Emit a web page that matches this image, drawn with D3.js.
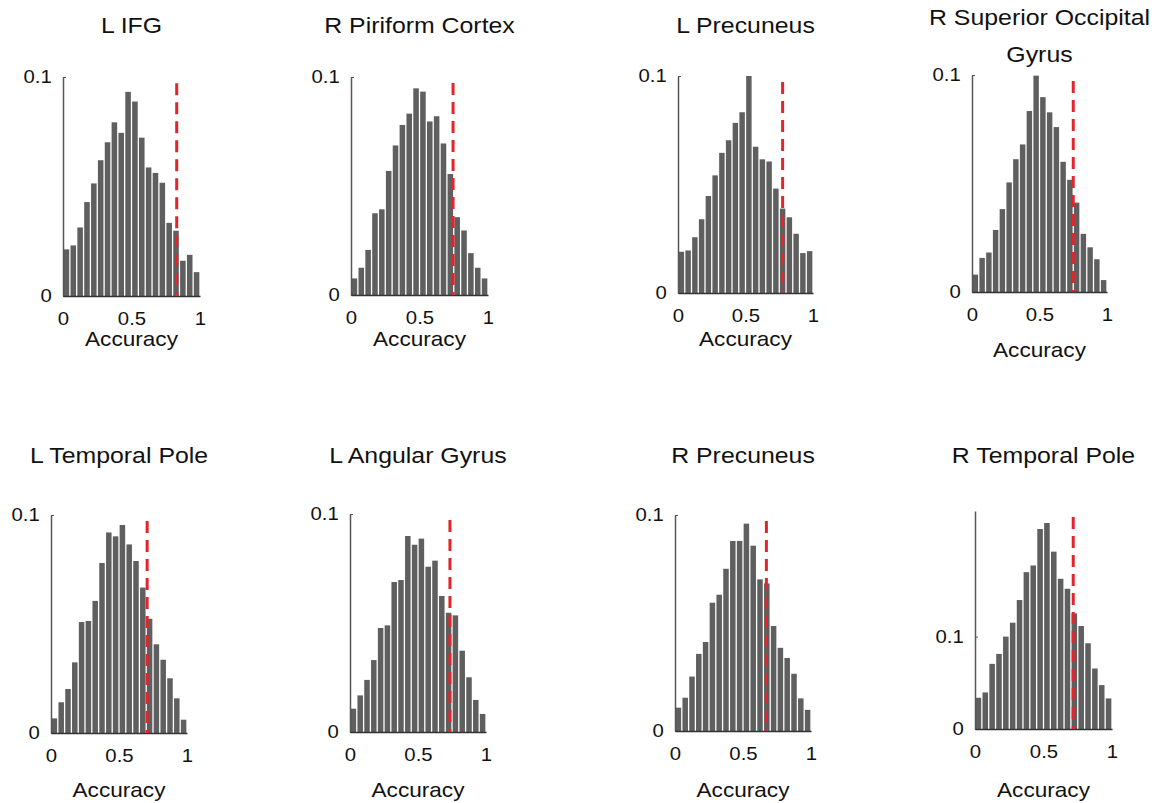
<!DOCTYPE html>
<html>
<head>
<meta charset="utf-8">
<script src="https://cdn.jsdelivr.net/npm/d3@7"></script>
<style>
  body { margin: 0; background: #fff; }
  svg { display: block; font-family: "Liberation Sans", Arial, sans-serif; }
</style>
</head>
<body>
<div id="chart"></div>
<script>
// bin left edges (bin width 0.05)
const binStarts = [0, 0.05, 0.1, 0.15, 0.2, 0.25, 0.3, 0.35, 0.4, 0.45,
                   0.5, 0.55, 0.6, 0.65, 0.7, 0.75, 0.8, 0.85, 0.9, 0.95];
const binWidth = 0.05;

const titles = [
  ["L IFG"], ["R Piriform Cortex"], ["L Precuneus"], ["R Superior Occipital", "Gyrus"],
  ["L Temporal Pole"], ["L Angular Gyrus"], ["R Precuneus"], ["R Temporal Pole"]
];

// null-distribution frequencies
const lIFG = [0.0213, 0.0231, 0.0313, 0.0429, 0.0514, 0.062, 0.0702, 0.0793, 0.0745, 0.0932,
              0.0888, 0.0723, 0.0587, 0.0562, 0.0517, 0.0334, 0.0298, 0.0161, 0.0188, 0.0109];
const rPiriform = [0.0076, 0.0125, 0.0207, 0.0375, 0.0393, 0.0569, 0.0686, 0.078, 0.0832, 0.0948,
                   0.0933, 0.0796, 0.082, 0.0695, 0.0555, 0.0357, 0.0296, 0.0192, 0.0125, 0.0076];
const lPrecuneus = [0.019, 0.0196, 0.0257, 0.034, 0.0447, 0.0542, 0.0646, 0.0704, 0.0784, 0.0833,
                    0.1, 0.0674, 0.0616, 0.0606, 0.0481, 0.0389, 0.0349, 0.0273, 0.0184, 0.0193];
const rSupOccipital = [0.008, 0.0157, 0.0182, 0.0286, 0.0382, 0.0505, 0.0612, 0.068, 0.0834, 0.0997,
                       0.0898, 0.0828, 0.076, 0.06, 0.0517, 0.0412, 0.0268, 0.0206, 0.0151, 0.0055];
const lTemporalPole = [0.0067, 0.0141, 0.0202, 0.0324, 0.0509, 0.0514, 0.0606, 0.078, 0.092, 0.0902,
                       0.0954, 0.0865, 0.0789, 0.0667, 0.0524, 0.0407, 0.0336, 0.0251, 0.0159, 0.0061];
const lAngular = [0.0107, 0.0168, 0.0239, 0.033, 0.0477, 0.0489, 0.0688, 0.0697, 0.0899, 0.0859,
                  0.0887, 0.0758, 0.0786, 0.0624, 0.0547, 0.0535, 0.0373, 0.0251, 0.0147, 0.0083];
const rPrecuneus = [0.0108, 0.0154, 0.0252, 0.0357, 0.0412, 0.0594, 0.0631, 0.0751, 0.088, 0.088,
                    0.096, 0.0858, 0.0702, 0.0683, 0.0486, 0.0385, 0.0338, 0.0265, 0.0151, 0.0098];
const rTemporalPole = [0.0338, 0.0396, 0.0705, 0.0813, 0.1, 0.1151, 0.1396, 0.1698, 0.177, 0.2165,
                       0.223, 0.192, 0.1626, 0.1518, 0.1252, 0.1115, 0.0928, 0.0655, 0.0475, 0.0331];

const series = [lIFG, rPiriform, lPrecuneus, rSupOccipital, lTemporalPole, lAngular, rPrecuneus, rTemporalPole];

// observed accuracy (red dashed line)
const observed = [0.83, 0.745, 0.775, 0.75, 0.707, 0.735, 0.672, 0.717];
const yMaxes = [0.1, 0.1, 0.1, 0.1, 0.1, 0.1, 0.1, 0.236];
const yTickVals = [0, 0.1];
const xTickVals = [0, 0.5, 1];

// panel placement in pixels
const layout = [
  {x0: 63,  x1: 200,  top: 77,  bottom: 296, titleY: 33,  labelY: 346},
  {x0: 351, x1: 488,  top: 77,  bottom: 295, titleY: 33,  labelY: 346},
  {x0: 678, x1: 813,  top: 76,  bottom: 293, titleY: 33,  labelY: 346},
  {x0: 972, x1: 1107, top: 75,  bottom: 292, titleY: 25,  labelY: 357},
  {x0: 51,  x1: 187,  top: 515, bottom: 733, titleY: 463, labelY: 797},
  {x0: 350, x1: 486,  top: 514, bottom: 732, titleY: 463, labelY: 797},
  {x0: 675, x1: 811,  top: 515, bottom: 731, titleY: 463, labelY: 797},
  {x0: 975, x1: 1112, top: 511, bottom: 729, titleY: 463, labelY: 797}
];

const stretch = "scale(1.13,1)"; // source glyphs are a bit wider than Arial

const W = 1156, H = 803;
const svg = d3.select("#chart").append("svg")
  .attr("width", W)
  .attr("height", H);

function label(x, y, txt, size) {
  svg.append("text")
    .attr("transform", `translate(${x},${y}) ${stretch}`)
    .attr("text-anchor", "middle")
    .style("font-size", size + "px")
    .attr("fill", "#111")
    .text(txt);
}

series.forEach((vals, i) => {
  const L = layout[i];
  const x = d3.scaleLinear().domain([0, 1]).range([L.x0, L.x1]);
  const y = d3.scaleLinear().domain([0, yMaxes[i]]).range([L.bottom, L.top]);
  const g = svg.append("g");

  // bars
  g.selectAll("rect")
    .data(vals.map((v, j) => ({start: binStarts[j], value: v})))
    .enter()
    .append("rect")
    .attr("x", d => x(d.start) + 0.65)
    .attr("width", d => x(d.start + binWidth) - x(d.start) - 1.3)
    .attr("y", d => y(d.value))
    .attr("height", d => y(0) - y(d.value))
    .attr("fill", "#5f5f5f");

  // y axis
  const ya = g.append("g")
    .attr("transform", `translate(${L.x0},0)`)
    .call(d3.axisLeft(y).tickValues(yTickVals).tickSizeInner(-3).tickSizeOuter(0)
      .tickPadding(10).tickFormat(d => d === 0 ? "0" : "0.1"));
  ya.select(".domain").attr("stroke", "#555").attr("stroke-width", 1.5);
  ya.selectAll(".tick line").attr("stroke", "#555");
  ya.selectAll("text").style("font-size", "18px").attr("fill", "#111")
    .attr("transform", stretch);

  // x axis
  const xa = g.append("g")
    .attr("transform", `translate(0,${L.bottom})`)
    .call(d3.axisBottom(x).tickValues(xTickVals).tickSize(0).tickPadding(16)
      .tickFormat(d3.format("")));
  xa.select(".domain").attr("stroke", "#333").attr("stroke-width", 1.5);
  xa.selectAll("text").style("font-size", "18px").attr("fill", "#111")
    .attr("transform", stretch);

  // observed accuracy
  g.append("line")
    .attr("x1", x(observed[i])).attr("x2", x(observed[i]))
    .attr("y1", y(yMaxes[i] * 0.972)).attr("y2", y(0))
    .attr("stroke", "#e3242b")
    .attr("stroke-width", 3)
    .attr("stroke-dasharray", "12,7");

  const cx = (L.x0 + L.x1) / 2;
  titles[i].forEach((t, k) => label(cx, L.titleY + k * 37, t, 22));
  label(cx, L.labelY, "Accuracy", 20);
});
</script>
</body>
</html>
